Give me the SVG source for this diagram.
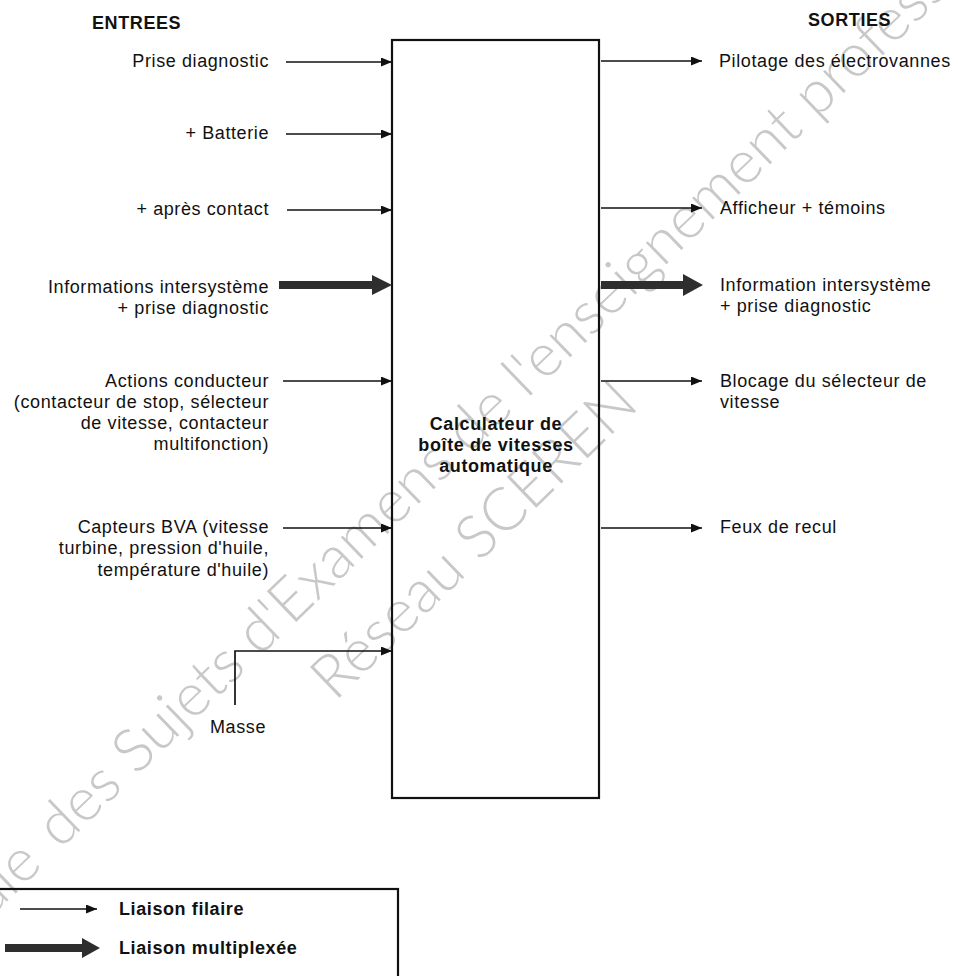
<svg xmlns="http://www.w3.org/2000/svg" width="958" height="976" viewBox="0 0 958 976">
<style>
.t{font-family:"Liberation Sans",Arial,sans-serif;font-size:18px;letter-spacing:0.6px;fill:#111}
.r{text-anchor:end}
.m{text-anchor:middle}
.b{font-weight:bold}
.w{font-family:"Lato","Open Sans","Liberation Sans",sans-serif;font-weight:300;font-size:60px;fill:#c8c8c8}
.ln{stroke:#111;stroke-width:1.7;fill:none}
.thick{fill:#2e2e2e}
.box{fill:none;stroke:#111;stroke-width:2.2}
</style>
<defs>
<marker id="ah" markerWidth="11" markerHeight="9" refX="11" refY="4.5" orient="auto" markerUnits="userSpaceOnUse"><path d="M0,0 L11,4.5 L0,9 z" fill="#111"/></marker>
</defs>
<rect width="958" height="976" fill="#fff"/>
<g id="watermark">
<text class="w" transform="translate(44,866) rotate(-44)" text-anchor="end">Base Nationale</text>
<text class="w" transform="translate(60,850) rotate(-44)">des Sujets d'Examens de l'enseignement professionnel</text>
<text class="w" transform="translate(335,702) rotate(-44)">Réseau SCEREN</text>
</g>
<g id="headings">
<text class="t b" x="92" y="29">ENTREES</text>
<text class="t b" x="808" y="26">SORTIES</text>
</g>
<g id="calculateur">
<rect class="box" x="392" y="40" width="207" height="758"/>
<text class="t b m" x="496" y="430" letter-spacing="0.3">Calculateur de</text>
<text class="t b m" x="496" y="451" letter-spacing="0.3">boîte de vitesses</text>
<text class="t b m" x="496" y="472" letter-spacing="0.3">automatique</text>
</g>
<g id="in-prise">
<text class="t r" x="269" y="67">Prise diagnostic</text>
</g>
<g id="in-batterie">
<text class="t r" x="269" y="139">+ Batterie</text>
</g>
<g id="in-apres-contact">
<text class="t r" x="269" y="215">+ après contact</text>
</g>
<g id="in-intersysteme">
<text class="t r" x="269" y="293">Informations intersystème</text>
<text class="t r" x="269" y="314">+ prise diagnostic</text>
</g>
<g id="in-actions">
<text class="t r" x="269" y="387">Actions conducteur</text>
<text class="t r" x="269" y="408">(contacteur de stop, sélecteur</text>
<text class="t r" x="269" y="429">de vitesse, contacteur</text>
<text class="t r" x="269" y="450">multifonction)</text>
</g>
<g id="in-capteurs">
<text class="t r" x="269" y="533">Capteurs BVA (vitesse</text>
<text class="t r" x="269" y="554">turbine, pression d'huile,</text>
<text class="t r" x="269" y="576">température d'huile)</text>
</g>
<g id="in-masse">
<text class="t m" x="238" y="733">Masse</text>
</g>
<g id="out-pilotage">
<text class="t" x="719" y="67">Pilotage des électrovannes</text>
</g>
<g id="out-afficheur">
<text class="t" x="720" y="214">Afficheur + témoins</text>
</g>
<g id="out-intersysteme">
<text class="t" x="720" y="291">Information intersystème</text>
<text class="t" x="720" y="312">+ prise diagnostic</text>
</g>
<g id="out-blocage">
<text class="t" x="720" y="387">Blocage du sélecteur de</text>
<text class="t" x="720" y="408">vitesse</text>
</g>
<g id="out-feux">
<text class="t" x="720" y="533">Feux de recul</text>
</g>
<g id="connectors">
<line class="ln" x1="286" y1="62" x2="392" y2="62" marker-end="url(#ah)"/>
<line class="ln" x1="286" y1="134" x2="392" y2="134" marker-end="url(#ah)"/>
<line class="ln" x1="287" y1="210" x2="392" y2="210" marker-end="url(#ah)"/>
<polygon class="thick" points="279,281 372,281 372,275 392,285 372,295 372,289 279,289"/>
<line class="ln" x1="283" y1="381" x2="392" y2="381" marker-end="url(#ah)"/>
<line class="ln" x1="283" y1="528" x2="392" y2="528" marker-end="url(#ah)"/>
<polyline class="ln" points="235,705 235,651 392,651" marker-end="url(#ah)"/>
<line class="ln" x1="601" y1="61" x2="702" y2="61" marker-end="url(#ah)"/>
<line class="ln" x1="601" y1="208" x2="702" y2="208" marker-end="url(#ah)"/>
<polygon class="thick" points="601,281 683,281 683,274 703,285 683,296 683,289 601,289"/>
<line class="ln" x1="601" y1="381" x2="702" y2="381" marker-end="url(#ah)"/>
<line class="ln" x1="601" y1="528" x2="702" y2="528" marker-end="url(#ah)"/>
</g>
<g id="legend">
<rect class="box" x="-2" y="889" width="400" height="100"/>
<line class="ln" x1="20" y1="909" x2="97" y2="909" marker-end="url(#ah)"/>
<text class="t b" x="119" y="915">Liaison filaire</text>
<polygon class="thick" points="5,944 82,944 82,938 100,948 82,958 82,952 5,952"/>
<text class="t b" x="119" y="954">Liaison multiplexée</text>
</g>
</svg>
